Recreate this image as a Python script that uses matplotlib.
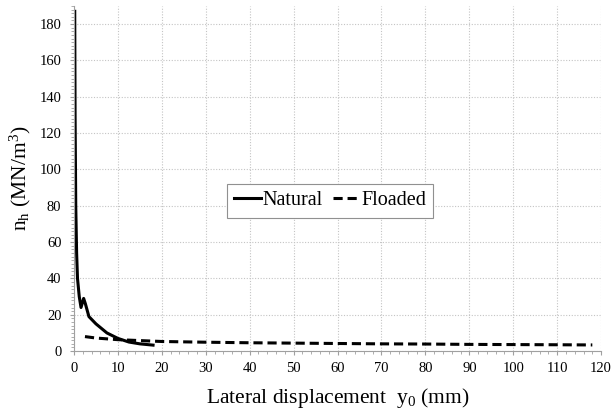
import matplotlib
matplotlib.use('Agg')
import matplotlib.pyplot as plt
from matplotlib.ticker import MultipleLocator

# values
natural_x = [0.17, 0.25, 0.4, 0.6, 0.8, 1.2, 1.6, 2.2, 2.6, 3.4, 5, 7.5, 10, 12.5, 15, 18]
natural_y = [187, 130, 80, 54, 40, 30, 24, 29, 26, 19, 15, 10, 7, 5, 4, 3.3]

floaded_x = [2.5, 5, 10, 15, 20, 30, 40, 50, 60, 70, 80, 90, 100, 110, 118]
floaded_y = [8, 7.2, 6.3, 5.8, 5.3, 4.9, 4.6, 4.4, 4.2, 4.0, 3.9, 3.7, 3.6, 3.5, 3.4]

plt.rcParams['font.family'] = ['Liberation Serif', 'DejaVu Serif']
plt.rcParams['mathtext.fontset'] = 'custom'
plt.rcParams['mathtext.rm'] = 'Liberation Serif'
plt.rcParams['mathtext.it'] = 'Liberation Serif'
plt.rcParams['mathtext.default'] = 'rm'

fig = plt.figure(figsize=(6.14, 4.2), dpi=100)
ax = fig.add_axes([0.1205, 0.164, 0.8585, 0.822])

ax.plot(natural_x, natural_y, color='black', lw=2.2, ls='-', label='Natural')
ax.plot(floaded_x, floaded_y, color='black', lw=2.2, ls=(0, (3, 1.6)), label='Floaded')

ax.set_xlim(0, 120)
ax.set_ylim(0, 190)
ax.xaxis.set_major_locator(MultipleLocator(10))
ax.xaxis.set_minor_locator(MultipleLocator(2))
ax.yaxis.set_minor_locator(MultipleLocator(2))
ax.set_yticks([0, 20, 40, 60, 80, 100, 120, 140, 160, 180])

ax.grid(True, which='major', color='#c4c4c4', ls=(0, (1, 1.5)), lw=0.8)
for s in ['top', 'right']:
    ax.spines[s].set_visible(False)
for s in ['left', 'bottom']:
    ax.spines[s].set_color('#a0a0a0')

ax.tick_params(axis='both', which='major', labelsize=10.5, length=3, color='#a0a0a0', direction='out')
ax.tick_params(axis='x', which='major', pad=5)
ax.tick_params(axis='y', which='major', pad=6)
ax.tick_params(axis='both', which='minor', length=2, color='#a0a0a0', direction='out')

ax.set_xlabel(r'Lateral displacement  y$_0$ (mm)', fontsize=15.5, labelpad=8)
ax.set_ylabel(r'n$_\mathrm{h}$ (MN/m$^3$)', fontsize=15.5, labelpad=5)

leg = ax.legend(loc='center', bbox_to_anchor=(0.486, 0.435), ncol=2, fontsize=14.5,
                handlelength=1.3, handletextpad=0.1, columnspacing=0.5,
                fancybox=False, edgecolor='#909090', framealpha=1,
                borderpad=0.35)
leg.get_frame().set_linewidth(0.8)

plt.savefig('out.png', dpi=100)
